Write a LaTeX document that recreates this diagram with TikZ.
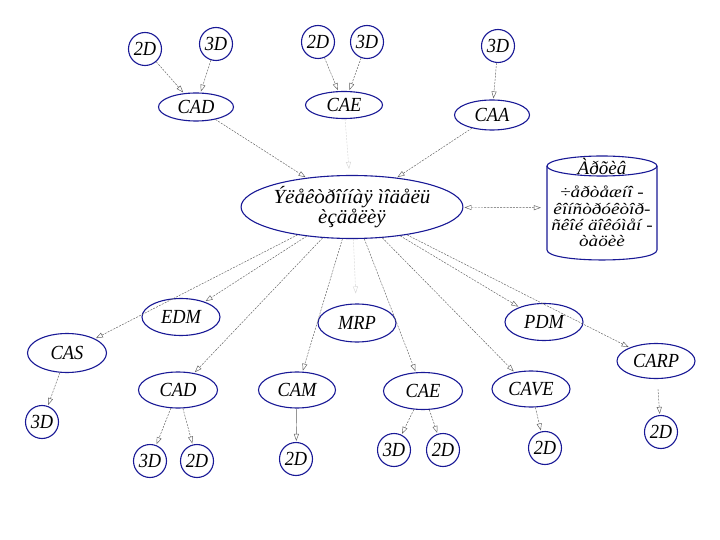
\documentclass[tikz,border=0pt]{standalone}
\usepackage{fontspec}
\setmainfont{Liberation Serif}
\newfontfamily\narrowfont{Liberation Serif}[FakeStretch=0.92]
\newfontfamily\widefont{Liberation Serif}[FakeStretch=1.05]
\newfontfamily\cylfont{Liberation Serif}[FakeStretch=1.2]
\usetikzlibrary{shapes.geometric,arrows.meta}
\definecolor{nodeblue}{RGB}{25,25,150}
\definecolor{linegray}{RGB}{95,95,95}
\begin{document}
\begin{tikzpicture}[x=1pt,y=-1pt,
  lbl/.style={font=\fontsize{20}{20}\selectfont\narrowfont\itshape},
  ell/.style={ellipse, draw=nodeblue, line width=1.1pt, fill=white, inner sep=0pt, lbl, minimum width=78pt, minimum height=36pt},
  small/.style={ell, minimum width=75pt, minimum height=28pt},
  circ/.style={circle, draw=nodeblue, line width=1.1pt, fill=white, minimum size=33pt, inner sep=0pt, lbl},
  conn/.style={draw=linegray, line width=0.45pt, dash pattern=on 2pt off 1.2pt, -{Triangle[open,length=7pt,width=5pt]}, shorten >=1pt},
  both/.style={conn, {Triangle[open,length=7pt,width=5pt]}-{Triangle[open,length=7pt,width=5pt]}},
  cyltext/.style={inner sep=0pt, font=\fontsize{16}{16}\selectfont\cylfont\itshape}
]
\useasboundingbox (0,0) rectangle (720,540);
\fill[white] (0,0) rectangle (720,540);

% top row
\node[circ] (t2da) at (145,49) {2D};
\node[circ] (t3da) at (216,44) {3D};
\node[small] (tcad) at (196,107) {CAD};
\node[circ] (t2db) at (318,42) {2D};
\node[circ] (t3db) at (367,42) {3D};
\node[small, minimum width=77pt, minimum height=27pt] (tcae) at (344,105) {CAE};
\node[circ] (t3dc) at (498,46) {3D};
\node[small, minimum height=30pt] (caa) at (492,115) {CAA};

% central
\node[ellipse, draw=nodeblue, line width=1.1pt, fill=white, inner sep=0pt,
      minimum width=221pt, minimum height=63pt, align=center,
      font=\fontsize{20}{18}\selectfont\widefont\itshape] (c) at (352,207)
      {Ýëåêòðîííàÿ ìîäåëü\\èçäåëèÿ};

% archive cylinder
\node[minimum width=110pt, minimum height=104pt, inner sep=0pt] (arch) at (602,208) {};
\draw[draw=nodeblue, line width=1.1pt, fill=white]
  (547,166) -- (547,250) .. controls (547,263.3) and (657,263.3) .. (657,250) -- (657,166);
\draw[draw=nodeblue, line width=1.1pt, fill=white] (602,166) ellipse [x radius=55, y radius=10];
\node[font=\fontsize{19}{19}\selectfont\itshape, inner sep=0pt] (archt) at (602,166) {Àðõèâ};
\node[cyltext] (l1) at (602,192) {÷åðòåæíî -};
\node[cyltext] (l2) at (602,208.5) {êîíñòðóêòîð-};
\node[cyltext] (l3) at (602,225) {ñêîé äîêóìåí -};
\node[cyltext] (l4) at (602,241.5) {òàöèè};

% middle row
\node[ell, minimum height=37pt] (edm) at (181,317) {EDM};
\node[ell, minimum height=38pt] (mrp) at (357,323) {MRP};
\node[ell, minimum height=37pt] (pdm) at (544,322) {PDM};
\node[ell, minimum width=79pt, minimum height=39pt] (cas) at (67,353) {CAS};
\node[ell, minimum height=35pt] (carp) at (656,361) {CARP};
\node[ell, minimum width=79pt] (lcad) at (178,390) {CAD};
\node[ell, minimum width=77pt] (cam) at (297,390) {CAM};
\node[ell, minimum width=79pt, minimum height=37pt] (lcae) at (423,391) {CAE};
\node[ell, minimum width=78pt] (cave) at (531,389) {CAVE};

% bottom circles
\node[circ] (b1) at (42,422) {3D};
\node[circ] (b2) at (150,461) {3D};
\node[circ] (b3) at (197,461) {2D};
\node[circ] (b4) at (296,459) {2D};
\node[circ] (b5) at (394,450) {3D};
\node[circ] (b6) at (443,450) {2D};
\node[circ] (b7) at (545,448) {2D};
\node[circ] (b8) at (661,432) {2D};

% connectors top
\draw[conn] (t2da) -- (tcad);
\draw[conn] (t3da) -- (tcad);
\draw[conn] (t2db) -- (tcae);
\draw[conn] (t3db) -- (tcae);
\draw[conn] (t3dc) -- (caa);
\draw[conn] (tcad) -- (c);
\draw[conn, draw=linegray!25, shorten >=6pt] (tcae) -- (c);
\draw[conn] (caa) -- (c);
\draw[both, shorten <=1pt, shorten >=6pt] (c) -- (arch);

% connectors from central
\draw[conn] (c) -- (cas);
\draw[conn] (c) -- (edm);
\draw[conn] (c) -- (lcad);
\draw[conn] (c) -- (cam);
\draw[conn, draw=linegray!25, shorten >=10pt] (c) -- (mrp);
\draw[conn] (c) -- (lcae);
\draw[conn] (c) -- (cave);
\draw[conn] (c) -- (pdm);
\draw[conn] (c) -- (carp);

% connectors bottom
\draw[conn] (cas) -- (b1);
\draw[conn] (lcad) -- (b2);
\draw[conn] (lcad) -- (b3);
\draw[conn, solid] (cam) -- (b4);
\draw[conn] (lcae) -- (b5);
\draw[conn] (lcae) -- (b6);
\draw[conn] (cave) -- (b7);
\draw[conn, shorten <=10pt] (carp) -- (b8);
\end{tikzpicture}
\end{document}
